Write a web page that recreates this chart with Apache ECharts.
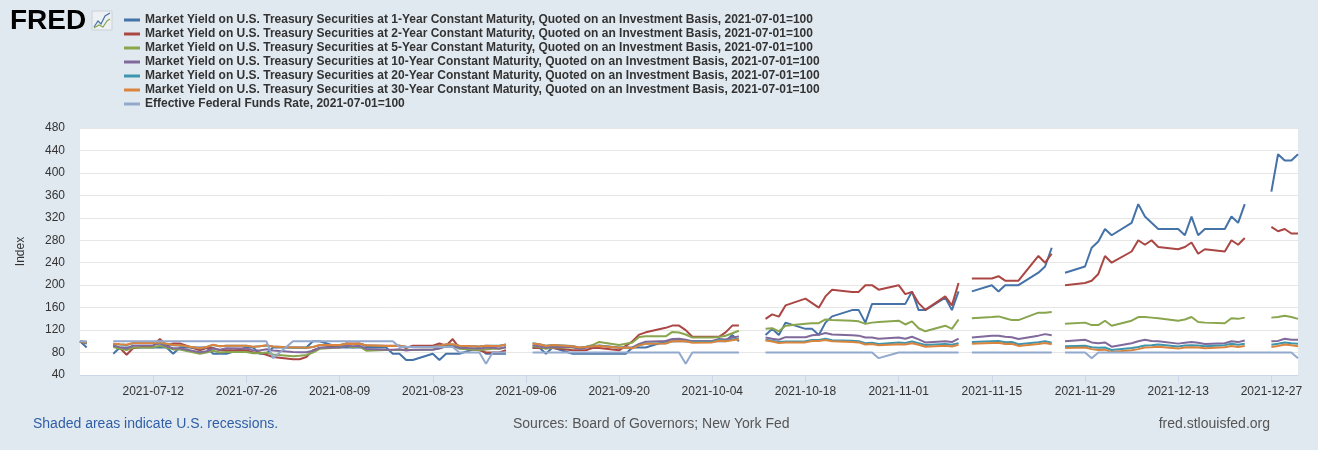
<!DOCTYPE html>
<html><head><meta charset="utf-8">
<script src="https://cdn.jsdelivr.net/npm/echarts@6/dist/echarts.min.js"></script>
<style>html,body{margin:0;padding:0;background:#e1e9f0;}#c{width:1318px;height:450px;}</style>
</head><body><div id="c"></div>
<script>
// Holidays (no Treasury quote) inside the weekday calendar
const holidays = ['2021-07-05','2021-09-06','2021-10-11','2021-11-11','2021-11-25','2021-12-24'];
const tickDates = ['2021-07-12','2021-07-26','2021-08-09','2021-08-23','2021-09-06','2021-09-20','2021-10-04','2021-10-18','2021-11-01','2021-11-15','2021-11-29','2021-12-13','2021-12-27'];
const yTicks = [40,80,120,160,200,240,280,320,360,400,440,480];

const seriesNames = [
 'Market Yield on U.S. Treasury Securities at 1-Year Constant Maturity, Quoted on an Investment Basis, 2021-07-01=100',
 'Market Yield on U.S. Treasury Securities at 2-Year Constant Maturity, Quoted on an Investment Basis, 2021-07-01=100',
 'Market Yield on U.S. Treasury Securities at 5-Year Constant Maturity, Quoted on an Investment Basis, 2021-07-01=100',
 'Market Yield on U.S. Treasury Securities at 10-Year Constant Maturity, Quoted on an Investment Basis, 2021-07-01=100',
 'Market Yield on U.S. Treasury Securities at 20-Year Constant Maturity, Quoted on an Investment Basis, 2021-07-01=100',
 'Market Yield on U.S. Treasury Securities at 30-Year Constant Maturity, Quoted on an Investment Basis, 2021-07-01=100',
 'Effective Federal Funds Rate, 2021-07-01=100'
];
const seriesColors = ['#4572a7','#aa4643','#89a54e','#80699b','#3d96ae','#db843d','#92a8cd'];

// one value per weekday, Jul 1 .. Dec 31 2021 (null = holiday)
const t1 = [
 100,88.9,null,77.8,88.9,88.9,88.9,88.9,88.9,88.9,77.8,88.9,88.9,88.9,77.8,77.8,77.8,88.9,88.9,77.8,77.8,88.9,
 88.9,88.9,88.9,100,100,88.9,88.9,88.9,88.9,88.9,88.9,77.8,77.8,66.7,66.7,77.8,66.7,77.8,77.8,77.8,88.9,77.8,
 77.8,77.8,77.8,null,88.9,88.9,77.8,88.9,77.8,77.8,77.8,77.8,77.8,77.8,77.8,88.9,88.9,88.9,100,100,100,100,
 100,100,100,100,111.1,100,null,111.1,122.2,111.1,133.3,122.2,122.2,111.1,133.3,144.4,155.6,155.6,133.3,166.7,166.7,
 166.7,166.7,188.9,155.6,155.6,177.8,155.6,188.9,null,188.9,200,188.9,200,200,200,222.2,233.3,266.7,null,222.2,233.3,266.7,
 277.8,300,288.9,311.1,344.4,322.2,311.1,300,300,288.9,322.2,288.9,300,300,322.2,311.1,344.4,null,366.7,433.3,422.2,422.2,433.3
];
const t2 = [
 100,96,null,92,88,76,88,92,104,92,96,96,84,88,88,84,84,84,80,80,76,72,
 68,68,72,84,88,92,96,96,96,92,92,92,92,88,92,92,96,92,104,88,84,80,
 80,80,84,null,88,88,88,88,84,84,84,88,88,84,92,100,112,116,124,128,128,120,
 108,108,108,116,128,128,null,140,148,144,164,176,168,160,180,192,188,188,200,200,192,
 200,184,188,168,156,180,164,204,null,212,212,216,208,208,208,252,240,256,null,200,204,208,
 220,252,240,260,280,272,280,268,264,268,276,256,264,260,280,272,284,null,304,296,300,292,292
];
const t5 = [
 100,96.7,null,90,86.7,84.4,88.9,88.9,92.2,88.9,85.6,85.6,77.8,80,83.3,80,81.1,81.1,78.9,78.9,80,76.7,
 73.3,74.4,75.6,80,86.7,88.9,92.2,88.9,91.1,83.3,84.4,84.4,84.4,84.4,84.4,85.6,87.8,91.1,92.2,86.7,84.4,85.6,
 86.7,86.7,88.9,null,91.1,90,86.7,88.9,88.9,87.8,90,93.3,98.9,93.3,95.6,97.8,107.8,108.9,108.9,116.7,115.6,112.2,
 106.7,106.7,107.8,110,114.4,118.9,null,122.2,123.3,117.8,127.8,131.1,132.2,132.2,138.9,137.8,136.7,135.6,131.1,133.3,134.4,
 136.7,130,135.6,123.3,117.8,127.8,122.2,138.9,null,141.1,143.3,144.4,141.1,137.8,137.8,151.1,151.1,152.2,null,131.1,133.3,128.9,
 128.9,136.7,127.8,136.7,143.3,143.3,142.2,141.1,136.7,138.9,143.3,134.4,133.3,132.2,141.1,140,142.2,null,142.2,143.3,145.6,143.3,140
];
const t10 = [
 100,97.3,null,92.6,89.2,87.2,92.6,93.2,95.9,91.2,87.8,87.8,80.4,82.4,87.2,85.1,87.8,87.2,83.8,83.8,85.8,83.8,
 81.1,80.4,80.4,83.1,88.5,89.2,91.9,91.2,91.9,86.5,85.1,85.1,85.8,83.8,85.1,85.1,87.2,91.2,91.2,88.5,87.2,88.5,
 88.5,87.2,89.9,null,93.2,91.2,88.5,90.5,89.9,86.5,88.5,90.5,92.6,88.5,89.2,89.2,95.3,99.3,100.7,104.1,104.7,102.7,
 100,100.7,104.1,103.4,106.8,108.8,null,106.8,104.7,102.7,107.4,107.4,110.8,111.5,114.9,112.2,110.8,110.1,106.8,106.8,104.7,
 106.8,104.7,108.1,103.4,98,100,98.6,104.7,null,106.8,110.1,110.1,108.1,107.4,104.1,110.1,112.8,110.8,null,100,102.7,98,
 96.6,98,90.5,96.6,100,102.7,100.7,100,95.9,97.3,98.6,97.3,95.3,96.6,100,98.6,101.4,null,100,100.7,104.7,102.7,102.7
];
const t20 = [
 100,97.8,null,95.4,94.4,93.5,96.8,96.8,97.8,95.4,93,92.5,87.2,89.6,93.5,91,92,92,90.1,91,92.5,90.6,
 88.7,88.7,88.3,89.7,93.1,93.1,95.5,95,95.5,92.6,91.6,91.6,92.1,90.2,89.7,90.2,91.6,94.5,94.5,92.1,90.7,92.1,
 92.1,92.1,94.5,null,96.5,95,92.1,93.6,91.6,89.2,90.2,91.6,92.1,88.8,89.2,87.8,93.1,96,96.5,100.3,100.8,100.3,
 98.8,99.3,102.2,101.2,103.1,105,null,102.9,101,98.6,99.6,100,102.4,102.4,104.4,102,101.2,100.3,96.5,97.5,95.1,
 97.7,97.2,99.6,96.8,93.4,95.3,93.9,96.8,null,98.7,100.1,100.6,98.2,98.7,94.8,98.2,100.1,97.7,null,91.3,92.2,89.4,
 88.4,88.9,84.6,87.9,89.9,92.7,93.2,94.2,90.8,92.7,93.2,92.7,91.3,93.2,95.6,93.7,95.6,null,93.7,95.6,98,96.6,95.6
];
const t30 = [
 100,98.1,null,95.7,94.7,93.8,97.1,97.1,98.1,95.7,93.3,92.8,87.5,89.9,93.8,91.3,92.3,92.3,90.4,91.3,92.8,90.9,
 88.9,88.9,88.5,89.9,93.3,93.3,95.7,95.2,95.7,92.8,91.8,91.8,92.3,90.4,89.9,90.4,91.8,94.7,94.7,92.3,90.9,92.3,
 91.8,91.8,94.2,null,96.2,94.7,91.8,93.3,91.3,88.9,89.9,91.3,91.8,88.5,88.9,87.5,92.8,95.7,96.2,100,100.5,100,
 97.6,98.1,101,100,101.9,103.8,null,101.4,99.5,97.1,98.1,98.1,100.5,100.5,102.4,100,99,98.1,94.2,95.2,92.8,
 94.7,94.2,96.6,93.8,90.4,92.3,90.9,93.8,null,95.7,97.1,97.6,95.2,95.7,91.8,95.2,97.1,94.7,null,88,88.9,86.1,
 84.6,85.1,80.8,84.1,86.1,88.9,89.4,90.4,87,88.9,89.4,88.9,87.5,89.4,91.8,89.9,91.8,null,89.9,91.8,94.2,92.8,91.3
];
const effr = [
 100,100,null,100,100,100,100,100,100,100,100,100,100,100,100,100,100,100,100,100,100,70,
 100,100,100,100,100,100,100,100,100,100,100,100,90,90,90,90,90,90,90,80,80,60,
 80,80,80,null,80,80,80,80,80,80,80,80,80,80,80,80,80,80,80,80,80,60,
 80,80,80,80,80,80,null,80,80,80,80,80,80,80,80,80,80,80,80,80,70,
 80,80,80,80,80,80,80,80,null,80,80,80,80,80,80,80,80,80,null,80,80,70,
 80,80,80,80,80,80,80,80,80,80,80,80,80,80,80,80,80,80,80,80,80,80,70
];

// weekday calendar, x = days since 2021-07-01
const DAY = 86400000, T0 = Date.UTC(2021,6,1);
const dates = [];
for (let t = T0; t <= Date.UTC(2021,11,31); t += DAY) {
  const d = new Date(t); const wd = d.getUTCDay();
  if (wd !== 0 && wd !== 6) dates.push(d.toISOString().slice(0,10));
}
const dayOf = s => { const p = s.split('-'); return Math.round((Date.UTC(+p[0], +p[1]-1, +p[2]) - T0) / DAY); };
const fmt = v => new Date(T0 + Math.round(v) * DAY).toISOString().slice(0,10);
const tickDays = tickDates.map(dayOf);

const allData = [t1,t2,t5,t10,t20,t30,effr];
const series = allData.map((arr,i) => ({
  name: seriesNames[i], type: 'line', showSymbol: false, symbol: 'none',
  connectNulls: false, animation: false,
  lineStyle: {width: 2, color: seriesColors[i]}, itemStyle: {color: seriesColors[i]},
  data: dates.map((d,k) => [dayOf(d), arr[k] === undefined ? null : arr[k]])
}));

const chart = echarts.init(document.getElementById('c'), null, {renderer: 'canvas'});
const FONT = '"Liberation Sans", Arial, sans-serif';
chart.setOption({
  backgroundColor: '#e1e9f0',
  animation: false,
  textStyle: {fontFamily: FONT},
  grid: {left: 80, right: 20, top: 128, bottom: 75, show: true, backgroundColor: '#ffffff', borderWidth: 0},
  legend: {
    orient: 'vertical', left: 119, top: 9, itemWidth: 16, itemHeight: 3, itemGap: 2,
    icon: 'rect', selectedMode: false,
    textStyle: {fontFamily: '"Liberation Sans Narrow", "Arial Narrow", ' + FONT, fontWeight: 'bold', fontSize: 12, color: '#333', lineHeight: 12},
    data: seriesNames
  },
  xAxis: {
    type: 'value', min: 0, max: dayOf('2021-12-31'),
    axisLine: {show: true, onZero: false, lineStyle: {color: '#ccd6eb', width: 1}},
    axisTick: {show: true, length: 8, lineStyle: {color: '#ccd6eb'}, customValues: tickDays},
    axisLabel: {customValues: tickDays, formatter: v => fmt(v), color: '#333', fontSize: 12, margin: 11, fontFamily: FONT},
    splitLine: {show: false}
  },
  yAxis: {
    type: 'value', min: 40, max: 480, interval: 40,
    name: 'Index', nameLocation: 'middle', nameGap: 53, nameRotate: 90,
    nameTextStyle: {color: '#333', fontSize: 12, fontFamily: FONT},
    axisLine: {show: false}, axisTick: {show: false},
    axisLabel: {color: '#333', fontSize: 12, margin: 15, fontFamily: FONT},
    splitLine: {lineStyle: {color: '#e6e6e6', width: 1}}
  },
  series: series,
  graphic: [
    {type: 'text', left: 10, top: 7, style: {text: 'FRED', fill: '#000', font: '900 28px "Liberation Sans", Arial, sans-serif'}},
    {type: 'rect', shape: {x: 92, y: 11, width: 20, height: 19}, style: {fill: '#eef1f4', stroke: '#c9d2da', lineWidth: 1}},
    {type: 'polyline', shape: {points: [[94,27],[98,21],[101,24],[105,16],[110,13]]}, style: {stroke: '#4572a7', lineWidth: 1.2, fill: null}},
    {type: 'polyline', shape: {points: [[94,28],[99,25],[103,27],[107,21],[110,19]]}, style: {stroke: '#89a54e', lineWidth: 1.2, fill: null}},
    {type: 'text', left: 33, top: 417, style: {text: 'Shaded areas indicate U.S. recessions.', fill: '#2f5ea6', font: '14px "Liberation Sans", Arial, sans-serif'}},
    {type: 'text', left: 513, top: 417, style: {text: 'Sources: Board of Governors; New York Fed', fill: '#555', font: '14px "Liberation Sans", Arial, sans-serif'}},
    {type: 'text', right: 48, top: 417, style: {text: 'fred.stlouisfed.org', fill: '#555', font: '14px "Liberation Sans", Arial, sans-serif'}}
  ]
});
</script></body></html>
